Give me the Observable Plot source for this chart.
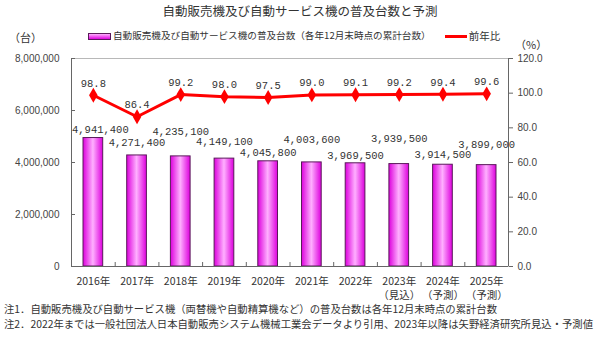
<!DOCTYPE html>
<html><head><meta charset="utf-8">
<script src="https://cdn.jsdelivr.net/npm/d3@7"></script>
<script src="https://cdn.jsdelivr.net/npm/@observablehq/plot@0.6"></script>
<style>
body{margin:0;background:#fff;}
#wrap{position:relative;width:600px;height:337px;overflow:hidden;font-family:"Noto Sans CJK JP",sans-serif;color:#333;}
#wrap svg{position:absolute;left:0;top:0;}
.t{position:absolute;white-space:nowrap;line-height:1;}
#title{left:0;width:600px;text-align:center;top:5px;font-size:12.5px;color:#333;}
#unitL{left:9px;top:32px;font-size:11px;}
#unitR{left:515px;top:39px;font-size:11px;}
#leg{left:88px;top:31px;font-size:9.6px;display:flex;align-items:center;}
.swb{width:21px;height:5px;border:1px solid #5a1a5a;background:linear-gradient(to bottom,#ffb0ff,#e000e0);margin-right:2px;}
.swl{width:22px;height:3px;background:#ff0000;margin-left:14px;margin-right:2px;}
.note{left:4px;font-size:10.35px;color:#333;}
</style></head><body><div id="wrap">
<div class="t" id="title">自動販売機及び自動サービス機の普及台数と予測</div>
<div class="t" id="unitL">（台）</div>
<div class="t" id="unitR">（%）</div>
<div class="t" id="leg"><span class="swb"></span><span>自動販売機及び自動サービス機の普及台数（各年12月末時点の累計台数）</span><span class="swl"></span><span style="font-size:10.5px">前年比</span></div>
<div class="t note" style="top:304px">注1．自動販売機及び自動サービス機（両替機や自動精算機など）の普及台数は各年12月末時点の累計台数</div>
<div class="t note" style="top:319px">注2．2022年までは一般社団法人日本自動販売システム機械工業会データより引用、2023年以降は矢野経済研究所見込・予測値</div>
</div>
<script>
// ---- data ----
const years = ["2016年","2017年","2018年","2019年","2020年","2021年","2022年","2023年","2024年","2025年"];
const yearNotes = ["","","","","","","","（見込）","（予測）","（予測）"];
const units = [4941400, 4271400, 4235100, 4149100, 4045800, 4003600, 3969500, 3939500, 3914500, 3899000];
const yoy = [98.8, 86.4, 99.2, 98.0, 97.5, 99.0, 99.1, 99.2, 99.4, 99.6];
const leftTicks = [0, 2000000, 4000000, 6000000, 8000000];
const rightTicks = [0, 20, 40, 60, 80, 100, 120];
const unitMax = 8000000, pctMax = 120;

// ---- layout ----
const W = 600, H = 337, mL = 71, mR = 92, mT = 58, mB = 71;
const plotH = H - mT - mB, plotW = W - mL - mR;
const barLabelLift = [8, 13, 25, 17, 9, 23, 8, 25, 10, 21]; // px above bar top
const barLabelShift = [7, 0, 0, 0, 0, 0, 0, 0, 0, 0];      // px right
const k = unitMax / pctMax;
const pxY = unitMax / plotH, pxX = years.length / plotW;

const data = years.map((y, i) => ({i, year: y, note: yearNotes[i], units: units[i], yoy: yoy[i]}));
const fmt = d3.format(",");
const mono = "'Liberation Mono', monospace";
const sans = "'Liberation Sans', Arial, sans-serif";

const chart = Plot.plot({
  width: W, height: H, marginLeft: mL, marginRight: mR, marginTop: mT, marginBottom: mB,
  style: {fontFamily: "'Noto Sans CJK JP', sans-serif", fontSize: "10.5px", color: "#444", background: "transparent"},
  x: {type: "linear", domain: [0, years.length], axis: null, label: null},
  y: {domain: [0, unitMax], axis: null, label: null},
  marks: [
    Plot.frame({stroke: "#b8b8b8"}),
    Plot.rectY(data, {x1: d => d.i, x2: d => d.i + 1, y: "units", insetLeft: 12, insetRight: 12,
      fill: "url(#barGrad)", stroke: "#5a1a5a", strokeWidth: 1}),
    Plot.ruleX([0, years.length], {stroke: "#666"}),
    Plot.ruleY([0], {stroke: "#666"}),
    Plot.axisY({anchor: "left", label: null, ticks: leftTicks, tickSize: -4, tickFormat: () => "", stroke: "#666"}),
    Plot.axisY({anchor: "left", label: null, ticks: leftTicks, tickSize: 0, tickPadding: 12, tickFormat: d => fmt(d),
      fontFamily: sans, fontSize: 10, fill: "#444"}),
    Plot.axisY({anchor: "right", label: null, ticks: rightTicks.map(v => v * k), tickSize: 4, tickPadding: 5,
      tickFormat: d => (d / k).toFixed(1), stroke: "#666", fontFamily: sans, fontSize: 10, fill: "#444"}),
    Plot.axisX({anchor: "bottom", label: null, ticks: d3.range(1, years.length), tickSize: -4, tickFormat: () => "", stroke: "#666"}),
    Plot.axisX({anchor: "bottom", label: null, ticks: data.map(d => d.i + 0.5), tickSize: 0, tickPadding: 8, lineHeight: 1.35,
      tickFormat: v => { const d = data[Math.floor(v)]; return d.note ? d.year + "\n" + d.note : d.year; },
      fontSize: 10.5, fill: "#333"}),
    Plot.line(data, {x: d => d.i + 0.5, y: d => d.yoy * k, stroke: "#ff0000", strokeWidth: 3}),
    Plot.dot(data, {x: d => d.i + 0.5, y: d => d.yoy * k, symbol: "diamond", r: 4.5, fill: "#ff0000", stroke: "none"}),
    Plot.text(data, {x: d => d.i + 0.5, y: d => d.yoy * k, text: d => d.yoy.toFixed(1), dy: -12,
      fontFamily: mono, fontSize: 10.5, fill: "#333", letterSpacing: "-0.4px"}),
    Plot.text(data, {x: d => d.i + 0.5 + barLabelShift[d.i] * pxX, y: d => d.units + barLabelLift[d.i] * pxY,
      text: d => fmt(d.units), fontFamily: mono, fontSize: 10.5, fill: "#333", letterSpacing: "-0.6px"})
  ]
});

const svg = d3.select(chart);
const grad = svg.insert("defs", ":first-child").append("linearGradient")
  .attr("id", "barGrad").attr("x1", 0).attr("x2", 1).attr("y1", 0).attr("y2", 0);
[[0, "#dd00dd"], [0.5, "#ffb0ff"], [1, "#dd00dd"]].forEach(([o, c]) =>
  grad.append("stop").attr("offset", o).attr("stop-color", c));
document.getElementById("wrap").prepend(chart);
</script>
</body></html>
